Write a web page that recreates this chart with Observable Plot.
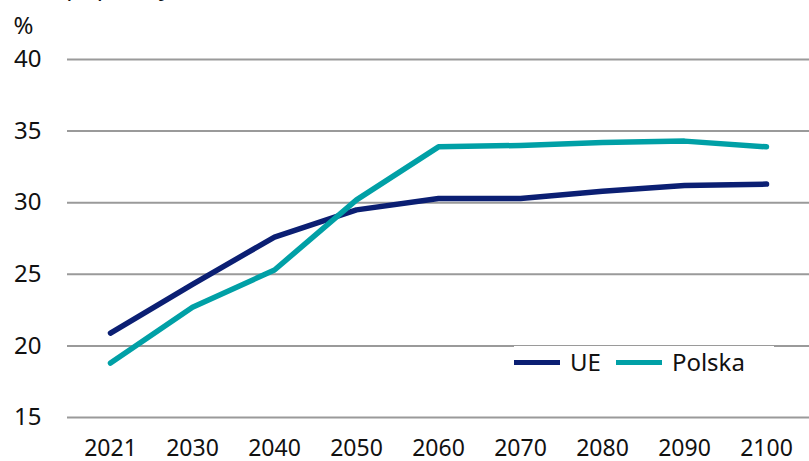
<!DOCTYPE html>
<html>
<head>
<meta charset="utf-8">
<script src="https://cdn.jsdelivr.net/npm/d3@7"></script>
<script src="https://cdn.jsdelivr.net/npm/@observablehq/plot@0.6"></script>
<style>
  html, body { margin: 0; padding: 0; background: #fff; }
  body { width: 809px; height: 461px; overflow: hidden; position: relative; font-family: "Noto Sans", sans-serif; }
  #clipTitle { position: absolute; left: 0; top: 0; width: 809px; height: 7px; overflow: hidden; }
  #clipTitle span { position: absolute; left: 31px; top: -26px; font-size: 24px; line-height: 1; color: #111; white-space: nowrap; letter-spacing: 0.6px; }
  #legend { position: absolute; left: 514px; top: 346px; width: 260px; box-sizing: border-box; height: 32px; background: #fff; padding: 0; display: flex; align-items: center; font-size: 24px; line-height: 1; color: #111; }
  .sw { display: inline-block; width: 46px; height: 5px; margin-right: 10px; }
  .item { display: flex; align-items: center; margin-right: 15px; }
  .item:last-child { margin-right: 0; }
</style>
</head>
<body>
<div id="clipTitle"><span>(% populacji)</span></div>
<div id="chart"></div>
<div id="legend"></div>
<script>
const years = ["2021", "2030", "2040", "2050", "2060", "2070", "2080", "2090", "2100"];
const ue = [20.9, 24.3, 27.6, 29.5, 30.3, 30.3, 30.8, 31.2, 31.3];
const polska = [18.8, 22.7, 25.3, 30.2, 33.9, 34.0, 34.2, 34.3, 33.9];
const seriesNames = ["UE", "Polska"];
const seriesColors = ["#0b1f73", "#00a0a6"];
const yTicks = [15, 20, 25, 30, 35, 40];

const data = [];
years.forEach((y, i) => {
  data.push({year: y, value: ue[i], series: "UE"});
  data.push({year: y, value: polska[i], series: "Polska"});
});

const chart = Plot.plot({
  width: 809,
  height: 461,
  marginTop: 59,
  marginBottom: 44,
  marginLeft: 67,
  marginRight: 0,
  style: {fontFamily: "Noto Sans, sans-serif", fontSize: "22px", color: "#111", background: "#fff"},
  x: {type: "point", domain: years, padding: 0.5, label: null},
  y: {domain: [15, 40], ticks: yTicks, label: null},
  color: {domain: seriesNames, range: seriesColors},
  marks: [
    Plot.ruleY(yTicks, {stroke: "#9a9a9a", strokeWidth: 2}),
    Plot.axisY({ticks: yTicks, tickSize: 0, tickPadding: 26, fontSize: 24, label: null}),
    Plot.axisX({tickSize: 0, tickPadding: 22, fontSize: 23, label: null}),
    Plot.text(["%"], {frameAnchor: "top-left", dx: -54, dy: -43, textAnchor: "start", fontSize: 24}),
    Plot.line(data, {x: "year", y: "value", z: "series", stroke: "series", strokeWidth: 5.5, strokeLinecap: "round", strokeLinejoin: "round"})
  ]
});
document.getElementById("chart").appendChild(chart);

const legend = document.getElementById("legend");
seriesNames.forEach((name, i) => {
  const item = document.createElement("div");
  item.className = "item";
  const sw = document.createElement("span");
  sw.className = "sw";
  sw.style.background = seriesColors[i];
  const lab = document.createElement("span");
  lab.textContent = name;
  item.appendChild(sw);
  item.appendChild(lab);
  legend.appendChild(item);
});
</script>
</body>
</html>
